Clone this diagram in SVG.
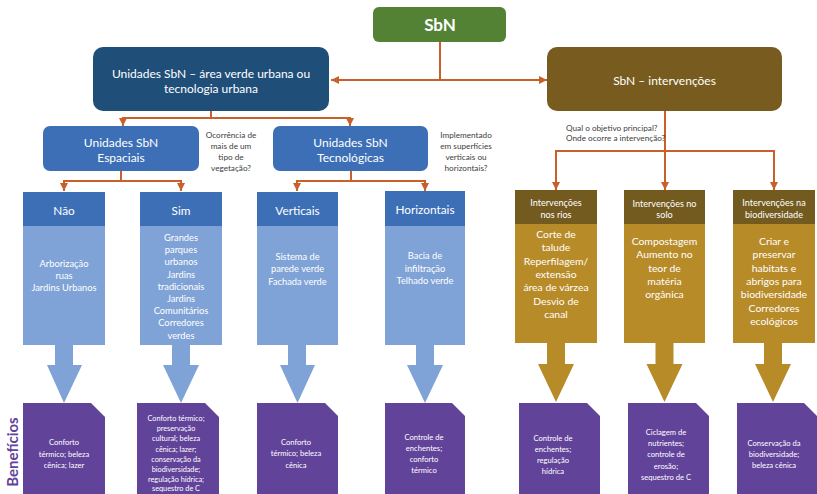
<svg xmlns="http://www.w3.org/2000/svg" width="817" height="494" viewBox="0 0 817 494">
<defs>
<style>
text{font-family:Lato,"Open Sans","Liberation Sans",sans-serif;text-anchor:middle;dominant-baseline:central;fill:#fff}
.t14{font-size:12px}
.hd{font-size:11.8px}
.bb{font-size:9.3px}
.gh{font-size:9.1px}
.gb{font-size:10.4px}
.pb{font-size:7.6px}
.ps{font-size:7.3px}
.q{font-size:8.2px;fill:#404040}
.hdr{fill:#3D6FB6}
.bod{fill:#7FA3D6}
.ghdr{fill:#735A1F}
.gbod{fill:#B88B29}
.pur{fill:#62439A}
.barr{fill:#7FA3D6}
.garr{fill:#B88B29}
.con{fill:none;stroke:#C8602A;stroke-width:2}
</style>
<marker id="ah" viewBox="0 0 10 10" refX="10" refY="5" markerWidth="8" markerHeight="8" markerUnits="userSpaceOnUse" orient="auto">
<path d="M0,0 L10,5 L0,10 z" fill="#C8602A"/>
</marker>
</defs>
<rect width="817" height="494" fill="#fff"/>

<g id="connectors">
<path class="con" d="M440,42 V80"/>
<path class="con" d="M440,80 H331" marker-end="url(#ah)"/>
<path class="con" d="M440,80 H547" marker-end="url(#ah)"/>
<path class="con" d="M211,111 V118 M123,118 H350"/>
<path class="con" d="M123,117 V126" marker-end="url(#ah)"/>
<path class="con" d="M350,117 V126" marker-end="url(#ah)"/>
<path class="con" d="M121,171 V181 M64,181 H181"/>
<path class="con" d="M64,180 V191" marker-end="url(#ah)"/>
<path class="con" d="M181,180 V191" marker-end="url(#ah)"/>
<path class="con" d="M351,171 V181 M297,181 H425"/>
<path class="con" d="M297,180 V191" marker-end="url(#ah)"/>
<path class="con" d="M425,180 V191" marker-end="url(#ah)"/>
<path class="con" d="M665,111 V190" marker-end="url(#ah)"/>
<path class="con" d="M556,151 H774"/>
<path class="con" d="M556,150 V190" marker-end="url(#ah)"/>
<path class="con" d="M774,150 V190" marker-end="url(#ah)"/>
</g>

<g id="sbn">
<rect x="373" y="7" width="133" height="35" rx="6" fill="#548235"/>
<text x="440" y="24.5" style="font-size:17px;font-weight:bold">SbN</text>
</g>

<g id="unidades">
<rect x="93" y="47" width="236" height="64" rx="10" fill="#1F4E79"/>
<text class="t14" x="211" y="73">Unidades SbN – área verde urbana ou</text>
<text class="t14" x="211" y="88.5">tecnologia urbana</text>
</g>

<g id="intervencoes">
<rect x="547" y="47" width="235" height="64" rx="10" fill="#785B1E"/>
<text class="t14" x="664.5" y="80">SbN – intervenções</text>
</g>

<g id="espaciais">
<rect x="43" y="126" width="156" height="45" rx="7" fill="#3D6FB6"/>
<text class="t14" x="121" y="142">Unidades SbN</text>
<text class="t14" x="121" y="157">Espaciais</text>
</g>

<g id="q1">
<text class="q" x="231" y="135">Ocorrência de</text>
<text class="q" x="231" y="146">mais de um</text>
<text class="q" x="231" y="157">tipo de</text>
<text class="q" x="231" y="168">vegetação?</text>
</g>

<g id="tecnologicas">
<rect x="273" y="126" width="155" height="45" rx="7" fill="#3D6FB6"/>
<text class="t14" x="350.5" y="142">Unidades SbN</text>
<text class="t14" x="350.5" y="157">Tecnológicas</text>
</g>

<g id="q2">
<text class="q" x="466" y="135">Implementado</text>
<text class="q" x="466" y="146">em superfícies</text>
<text class="q" x="466" y="157">verticais ou</text>
<text class="q" x="466" y="168">horizontais?</text>
</g>

<g id="q3">
<text class="q" x="566" y="128" style="text-anchor:start">Qual o objetivo principal?</text>
<text class="q" x="566" y="138" style="text-anchor:start">Onde ocorre a intervenção?</text>
</g>

<g id="nao">
<rect class="hdr" x="23" y="192" width="82" height="34"/>
<rect class="bod" x="23" y="226" width="82" height="119"/>
<polygon class="barr" points="55,345 73,345 73,365 82,365 64,403 47,365 55,365"/>
<text class="hd" x="64" y="210">Não</text>
<text class="bb" x="64" y="263.5">Arborização</text>
<text class="bb" x="64" y="275.5">ruas</text>
<text class="bb" x="64" y="287.5">Jardins Urbanos</text>
</g>

<g id="sim">
<rect class="hdr" x="140" y="192" width="82" height="34"/>
<rect class="bod" x="140" y="226" width="82" height="119"/>
<polygon class="barr" points="172,345 190,345 190,365 199,365 181,403 163,365 172,365"/>
<text class="hd" x="181" y="210">Sim</text>
<text class="bb" x="181" y="237.5">Grandes</text>
<text class="bb" x="181" y="249.7">parques</text>
<text class="bb" x="181" y="261.9">urbanos</text>
<text class="bb" x="181" y="274.1">Jardins</text>
<text class="bb" x="181" y="286.3">tradicionais</text>
<text class="bb" x="181" y="298.5">Jardins</text>
<text class="bb" x="181" y="310.7">Comunitários</text>
<text class="bb" x="181" y="322.9">Corredores</text>
<text class="bb" x="181" y="335.1">verdes</text>
</g>

<g id="verticais">
<rect class="hdr" x="257" y="192" width="81" height="34"/>
<rect class="bod" x="257" y="226" width="81" height="119"/>
<polygon class="barr" points="288,345 306,345 306,365 315,365 297.5,403 280,365 288,365"/>
<text class="hd" x="297.5" y="210">Verticais</text>
<text class="bb" x="297.5" y="256">Sistema de</text>
<text class="bb" x="297.5" y="268.5">parede verde</text>
<text class="bb" x="297.5" y="281">Fachada verde</text>
</g>

<g id="horizontais">
<rect class="hdr" x="385" y="191" width="80" height="35"/>
<rect class="bod" x="385" y="226" width="80" height="119"/>
<polygon class="barr" points="416,345 434,345 434,365 443,365 425,403 407,365 416,365"/>
<text class="hd" x="425" y="209">Horizontais</text>
<text class="bb" x="425" y="255.5">Bacia de</text>
<text class="bb" x="425" y="268">infiltração</text>
<text class="bb" x="425" y="280.5">Telhado verde</text>
</g>

<g id="rios">
<rect class="ghdr" x="515" y="190" width="82" height="34"/>
<rect class="gbod" x="515" y="224" width="82" height="119"/>
<polygon class="garr" points="547,343 565,343 565,364 574,364 556,402 538,364 547,364"/>
<text class="gh" x="556" y="202">Intervenções</text>
<text class="gh" x="556" y="214">nos rios</text>
<text class="gb" x="556" y="234">Corte de</text>
<text class="gb" x="556" y="247.3">talude</text>
<text class="gb" x="556" y="260.6">Reperfilagem/</text>
<text class="gb" x="556" y="273.9">extensão</text>
<text class="gb" x="556" y="287.2">área de várzea</text>
<text class="gb" x="556" y="300.5">Desvio de</text>
<text class="gb" x="556" y="313.8">canal</text>
</g>

<g id="solo">
<rect class="ghdr" x="624" y="190" width="81" height="34"/>
<rect class="gbod" x="624" y="224" width="81" height="119"/>
<polygon class="garr" points="655.5,343 673.5,343 673.5,364 682.5,364 664.5,402 646.5,364 655.5,364"/>
<text class="gh" x="664.5" y="203">Intervenções no</text>
<text class="gh" x="664.5" y="214.5">solo</text>
<text class="gb" x="664.5" y="241">Compostagem</text>
<text class="gb" x="664.5" y="254.3">Aumento no</text>
<text class="gb" x="664.5" y="267.6">teor de</text>
<text class="gb" x="664.5" y="280.9">matéria</text>
<text class="gb" x="664.5" y="294.2">orgânica</text>
</g>

<g id="biodiversidade">
<rect class="ghdr" x="733" y="190" width="82" height="34"/>
<rect class="gbod" x="733" y="224" width="82" height="119"/>
<polygon class="garr" points="764,343 782,343 782,364 791,364 773,402 755,364 764,364"/>
<text class="gh" x="774" y="202">Intervenções na</text>
<text class="gh" x="774" y="214">biodiversidade</text>
<text class="gb" x="774" y="241">Criar e</text>
<text class="gb" x="774" y="254.3">preservar</text>
<text class="gb" x="774" y="267.6">habitats e</text>
<text class="gb" x="774" y="280.9">abrigos para</text>
<text class="gb" x="774" y="294.2">biodiversidade</text>
<text class="gb" x="774" y="307.5">Corredores</text>
<text class="gb" x="774" y="320.8">ecológicos</text>
</g>

<g id="beneficios-label">
<text x="12" y="452" transform="rotate(-90 12 452)" style="font-size:15px;font-weight:bold;fill:#62439A">Benefícios</text>
</g>

<g id="ben1">
<polygon class="pur" points="23,403 91,403 105,417 105,494 23,494"/>
<text class="pb" x="64" y="442">Conforto</text>
<text class="pb" x="64" y="453.5">térmico; beleza</text>
<text class="pb" x="64" y="465">cênica; lazer</text>
</g>

<g id="ben2">
<polygon class="pur" points="137,403 205,403 219,417 219,494 137,494"/>
<text class="ps" x="176" y="418">Conforto térmico;</text>
<text class="ps" x="176" y="428">preservação</text>
<text class="ps" x="176" y="438.5">cultural; beleza</text>
<text class="ps" x="176" y="449">cênica; lazer;</text>
<text class="ps" x="176" y="459">conservação da</text>
<text class="ps" x="176" y="469">biodiversidade;</text>
<text class="ps" x="176" y="479">regulação hídrica;</text>
<text class="ps" x="176" y="488.5">sequestro de C</text>
</g>

<g id="ben3">
<polygon class="pur" points="257,403 325,403 338,416 338,494 257,494"/>
<text class="pb" x="296" y="442">Conforto</text>
<text class="pb" x="296" y="453">térmico; beleza</text>
<text class="pb" x="296" y="464.5">cênica</text>
</g>

<g id="ben4">
<polygon class="pur" points="385,403 452,403 465,416 465,494 385,494"/>
<text class="pb" x="424" y="437">Controle de</text>
<text class="pb" x="424" y="448">enchentes;</text>
<text class="pb" x="424" y="459.3">conforto</text>
<text class="pb" x="424" y="470">térmico</text>
</g>

<g id="ben5">
<polygon class="pur" points="519,403 587,403 600,416 600,494 519,494"/>
<text class="pb" x="553" y="437.7">Controle de</text>
<text class="pb" x="553" y="448.5">enchentes;</text>
<text class="pb" x="553" y="460">regulação</text>
<text class="pb" x="553" y="470.5">hídrica</text>
</g>

<g id="ben6">
<polygon class="pur" points="628,403 696,403 709,416 709,494 628,494"/>
<text class="pb" x="666" y="432.3">Ciclagem de</text>
<text class="pb" x="666" y="443.3">nutrientes;</text>
<text class="pb" x="666" y="454.3">controle de</text>
<text class="pb" x="666" y="465.5">erosão;</text>
<text class="pb" x="666" y="476.5">sequestro de C</text>
</g>

<g id="ben7">
<polygon class="pur" points="737,403 804,403 817,416 817,494 737,494"/>
<text class="pb" x="774" y="443.3">Conservação da</text>
<text class="pb" x="774" y="454.3">biodiversidade;</text>
<text class="pb" x="774" y="465">beleza cênica</text>
</g>
</svg>
